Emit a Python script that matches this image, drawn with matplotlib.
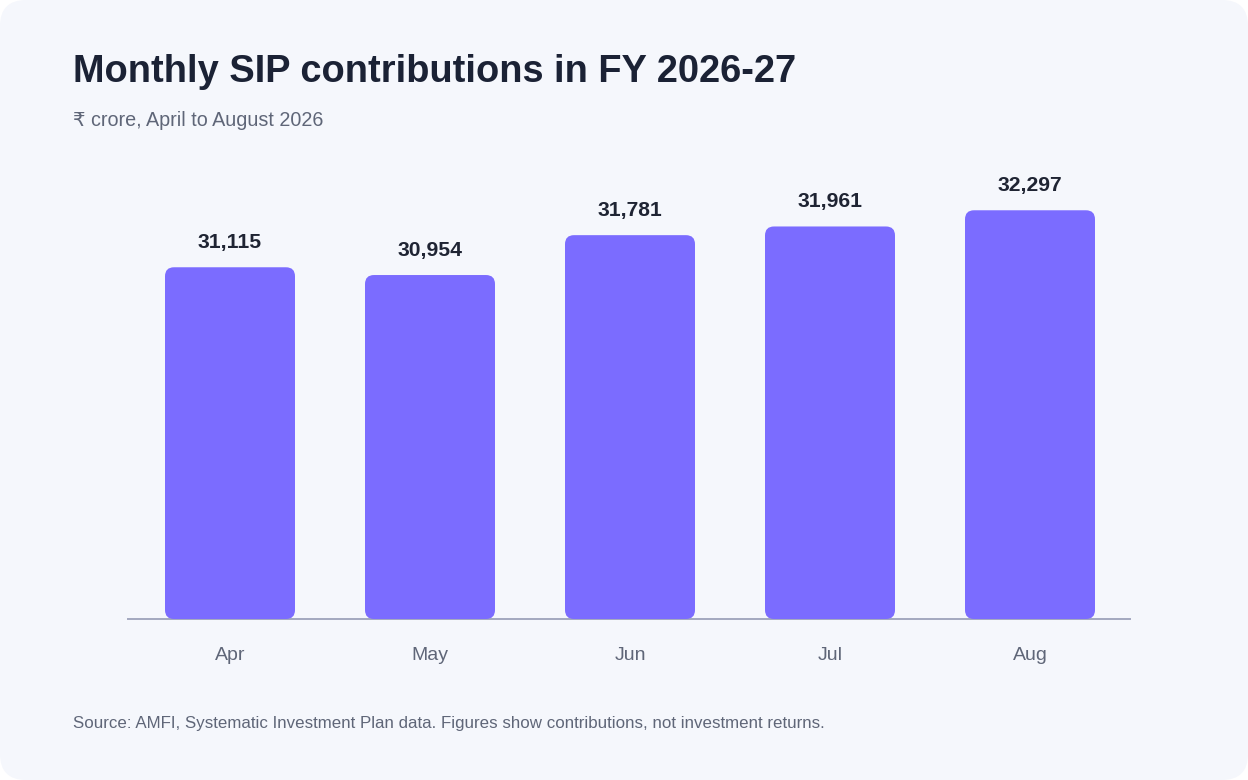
import matplotlib.pyplot as plt
from matplotlib.patches import FancyBboxPatch

months = ["Apr", "May", "Jun", "Jul", "Aug"]
sip_crore = [31115, 30954, 31781, 31961, 32297]

title = "Monthly SIP contributions in FY 2026-27"
subtitle = "₹ crore, April to August 2026"
source = "Source: AMFI, Systematic Investment Plan data. Figures show contributions, not investment returns."

plt.rcParams['font.family'] = ['Liberation Sans', 'DejaVu Sans']

W, H = 1248, 780
fig = plt.figure(figsize=(W / 100, H / 100), dpi=100)
fig.patch.set_facecolor("white")

# rounded card behind everything
card = FancyBboxPatch((0, 0), 1, 1, boxstyle="round,pad=0,rounding_size=%f" % (26 / W),
                      mutation_aspect=W / H, transform=fig.transFigure,
                      facecolor="#F5F7FC", edgecolor="none", zorder=0)
fig.add_artist(card)

ax_left, ax_right = 128, 1130
ax_top, ax_bottom = 150, 619
ax = fig.add_axes([ax_left / W, (H - ax_bottom) / H, (ax_right - ax_left) / W, (ax_bottom - ax_top) / H])
ax.set_facecolor("none")

ymin = 23820
ymax = ymin + (ax_bottom - ax_top) * 20.74
ax.set_xlim(-0.51, 4.5)
ax.set_ylim(ymin, ymax)

bar_w = 0.65
x_per_px = (4.5 + 0.51) / (ax_right - ax_left)
y_per_px = (ymax - ymin) / (ax_bottom - ax_top)
radius_px = 9
for i, v in enumerate(sip_crore):
    p = FancyBboxPatch((i - bar_w / 2, ymin), bar_w, v - ymin,
                       boxstyle="round,pad=0,rounding_size=%f" % (radius_px * x_per_px),
                       mutation_aspect=y_per_px / x_per_px,
                       facecolor="#7B6CFF", edgecolor="none", zorder=3)
    ax.add_patch(p)
    ax.annotate(f"{v:,}", (i, v), xytext=(0, 17.8), textcoords="offset points",
                ha="center", va="center", fontsize=15.2, fontweight="bold", color="#1F2433")

for s in ["top", "right", "left"]:
    ax.spines[s].set_visible(False)
ax.spines["bottom"].set_color("#A3A8BF")
ax.spines["bottom"].set_linewidth(1.4)
ax.spines["bottom"].set_zorder(2)
ax.set_yticks([])
ax.set_xticks(range(len(months)))
ax.set_xticklabels(months, fontsize=14, color="#5F6678")
ax.tick_params(axis="x", length=0, pad=20.5)

fig.text(73 / W, (H - 82) / H, title, fontsize=27.4, fontweight="bold", color="#1B2235", va="baseline")
fig.text(73 / W, (H - 126) / H, subtitle, fontsize=14.2, color="#5F6678", va="baseline")
fig.text(73 / W, (H - 728) / H, source, fontsize=12.2, color="#5F6678", va="baseline")

fig.savefig("out.png", dpi=100, facecolor=fig.get_facecolor())
